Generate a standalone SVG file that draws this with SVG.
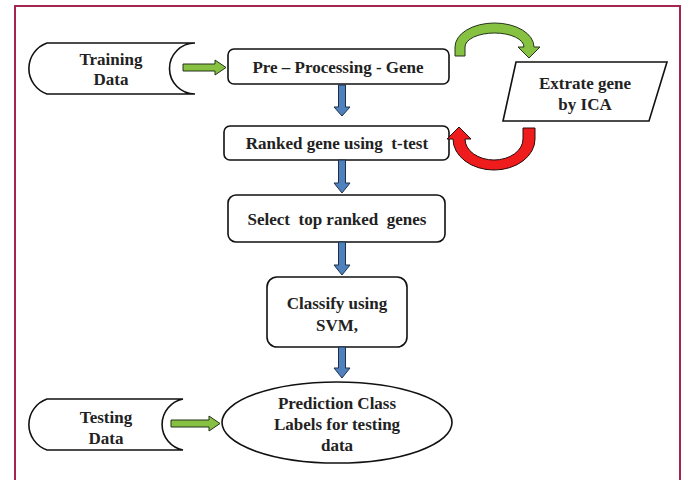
<svg xmlns="http://www.w3.org/2000/svg" width="683" height="480" viewBox="0 0 683 480">
<style>
.box{fill:#fff;stroke:#111;stroke-width:1.6}
.t{font-family:"Liberation Serif","Times New Roman",serif;font-weight:bold;font-size:17px;fill:#222;text-anchor:middle;dominant-baseline:central;white-space:pre}
.blue{fill:#4f81bd;stroke:#1e2f4a;stroke-width:1}
.green{fill:#86c142;stroke:#24331a;stroke-width:1}
.red{fill:#ee1c1c;stroke:#2a0a0a;stroke-width:1}
</style>
<rect x="0" y="0" width="683" height="480" fill="#fff"/>
<path d="M15,482 L15,6 L680,6 L680,482" fill="none" stroke="#a3264f" stroke-width="2"/>

<g id="training">
<path class="box" d="M47,43 L195,43 A25.5 25.5 0 0 0 195,94 L47,94 A27 27 0 0 1 47,43 Z"/>
<text class="t" x="111" y="59">Training</text>
<text class="t" x="111" y="79">Data</text>
</g>
<g id="preprocessing">
<rect class="box" x="228" y="49" width="221" height="35" rx="6"/>
<text class="t" x="338" y="67">Pre – Processing - Gene</text>
</g>
<g id="extrate">
<path class="box" d="M516,62 L667,62 L649,121 L503,121 Z"/>
<text class="t" x="585" y="83">Extrate gene</text>
<text class="t" x="585" y="104">by ICA</text>
</g>
<g id="ranked">
<rect class="box" x="224" y="126" width="225" height="34" rx="6"/>
<text class="t" x="337" y="143" xml:space="preserve">Ranked gene using  t-test</text>
</g>
<g id="select">
<rect class="box" x="228" y="195" width="217" height="47" rx="8"/>
<text class="t" x="337" y="219" xml:space="preserve">Select  top ranked  genes</text>
</g>
<g id="classify">
<rect class="box" x="267" y="277" width="140" height="70" rx="10"/>
<text class="t" x="337" y="303">Classify using</text>
<text class="t" x="337" y="325">SVM,</text>
</g>
<g id="testing">
<path class="box" d="M47,399 L183,399 A26 26 0 0 0 183,450 L47,450 A27 27 0 0 1 47,399 Z"/>
<text class="t" x="106" y="417">Testing</text>
<text class="t" x="106" y="438">Data</text>
</g>
<g id="prediction">
<ellipse class="box" cx="337" cy="422.5" rx="115" ry="40.5"/>
<text class="t" x="337" y="403">Prediction Class</text>
<text class="t" x="337" y="424">Labels for testing</text>
<text class="t" x="337" y="445">data</text>
</g>

<g id="connectors">
<path class="green" d="M183,64 L215,64 L215,60 L226,67.5 L215,75 L215,71 L183,71 Z"/>
<path class="green" d="M171,420 L209,420 L209,416 L220,423.5 L209,431 L209,427 L171,427 Z"/>
<path class="blue" d="M338.5,85 L345.5,85 L345.5,107 L350,107 L342,116 L334,107 L338.5,107 Z"/>
<path class="blue" d="M338.5,160 L345.5,160 L345.5,183 L350,183 L342,193 L334,183 L338.5,183 Z"/>
<path class="blue" d="M338.5,242 L345.5,242 L345.5,265 L350,265 L342,275 L334,265 L338.5,265 Z"/>
<path class="blue" d="M338.5,347 L345.5,347 L345.5,368 L350,368 L342,378 L334,368 L338.5,368 Z"/>
<path class="green" d="M455,56 L455,47 A39.5 24 0 0 1 534,47 L540,47 L529,58 L518,47 L524,47 A29.5 14 0 0 0 465,47 L465,56 Z"/>
<path class="red" d="M535,128 L535,139 A41 31 0 0 1 453,139 L447,139 L459,127 L471,139 L465,139 A29 21 0 0 0 523,139 L523,128 Z"/>
</g>
</svg>
